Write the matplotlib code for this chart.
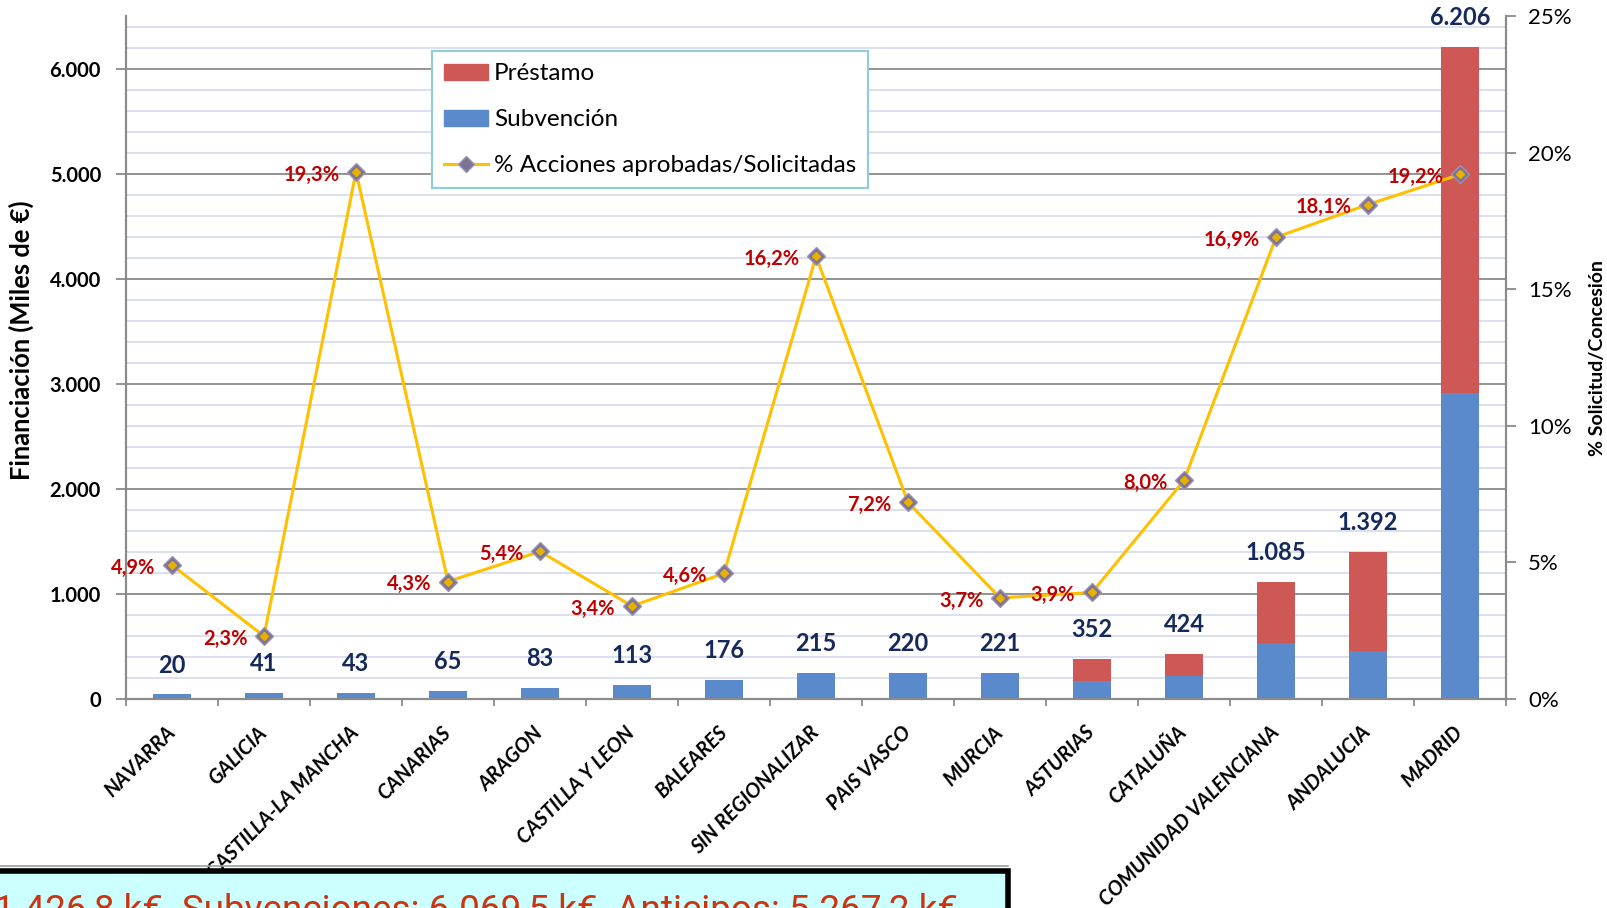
import matplotlib
matplotlib.use("Agg")
import matplotlib.pyplot as plt
import numpy as np
from matplotlib.patches import Rectangle, Patch
from matplotlib.lines import Line2D
from matplotlib.transforms import ScaledTranslation

# ---------------- data ----------------
categories = ['NAVARRA', 'GALICIA', 'CASTILLA-LA MANCHA', 'CANARIAS', 'ARAGON',
              'CASTILLA Y LEON', 'BALEARES', 'SIN REGIONALIZAR', 'PAIS VASCO',
              'MURCIA', 'ASTURIAS', 'CATALUÑA', 'COMUNIDAD VALENCIANA',
              'ANDALUCIA', 'MADRID']
subvencion = [45, 60, 60, 76, 105, 136, 184, 247, 247, 247, 168, 222, 533, 453, 2911]
prestamo = [0, 0, 0, 0, 0, 0, 0, 0, 0, 0, 213, 206, 583, 946, 3293]
total_labels = [20, 41, 43, 65, 83, 113, 176, 215, 220, 221, 352, 424, 1085, 1392, 6206]
pct_aprobadas = [4.9, 2.3, 19.3, 4.3, 5.4, 3.4, 4.6, 16.2, 7.2, 3.7, 3.9, 8.0, 16.9, 18.1, 19.2]
left_ticks = [0, 1000, 2000, 3000, 4000, 5000, 6000]
right_ticks = [0, 5, 10, 15, 20, 25]
footer_text = "1.426,8 k€. Subvenciones: 6.069,5 k€. Anticipos: 5.267,2 k€"

# ---------------- style ----------------
FONT = ['Lato', 'DejaVu Sans']
plt.rcParams['font.family'] = FONT
BLUE = '#5A8ACB'
RED = '#CD5856'
GOLD = '#FFC000'
NAVY = '#15295A'
PCTRED = '#C00000'
GRID_MAJ = '#8A8A8A'
GRID_MIN = '#D8DCEE'

W, H = 1608, 908
fig = plt.figure(figsize=(W / 100, H / 100), dpi=100)
ax = fig.add_axes([126 / W, 1 - 699 / H, 1380 / W, 683 / H])

x = np.arange(len(categories))
bw = 0.41
ax.bar(x, subvencion, width=bw, color=BLUE, zorder=3, linewidth=0)
ax.bar(x, prestamo, width=bw, bottom=subvencion, color=RED, zorder=3, linewidth=0)

ax.set_xlim(-0.5, len(categories) - 0.5)
ax.set_ylim(0, 6500)
ax.set_yticks(left_ticks)
ax.set_yticklabels([f"{v:,}".replace(',', '.') for v in left_ticks],
                   fontsize=14.5, fontweight='bold')
ax.set_yticks(np.arange(0, 6600, 200), minor=True)
ax.yaxis.grid(True, which='minor', color=GRID_MIN, linewidth=1.3, zorder=0)
ax.yaxis.grid(True, which='major', color=GRID_MAJ, linewidth=1.3, zorder=1)
ax.set_axisbelow(True)
ax.tick_params(axis='y', which='major', direction='out', length=7, width=1.3,
               color=GRID_MAJ, pad=11)
ax.tick_params(axis='y', which='minor', length=0)

# x ticks at category boundaries, labels at centres
ax.set_xticks(np.arange(-0.5, len(categories), 1.0))
ax.set_xticklabels([])
ax.tick_params(axis='x', which='major', direction='out', length=5, width=1.3,
               color=GRID_MAJ)
ax.set_xticks(x, minor=True)
ax.set_xticklabels(categories, minor=True, rotation=45, ha='right',
                   rotation_mode='anchor', fontsize=14.5, fontweight='bold',
                   fontstyle='italic', va='center')
ax.tick_params(axis='x', which='minor', length=0, pad=22)

for s in ['left', 'right', 'bottom']:
    ax.spines[s].set_color(GRID_MAJ)
    ax.spines[s].set_linewidth(1.5)
ax.spines['top'].set_visible(False)

ax.set_ylabel('Financiación (Miles de €)', fontsize=18.4, fontweight='bold')
ax.yaxis.set_label_coords(-92 / 1380, 0.526)

# value labels above bars
totals = [s + p for s, p in zip(subvencion, prestamo)]
for xi, t, lab in zip(x, totals, total_labels):
    ax.annotate(f"{lab:,}".replace(',', '.'), (xi, t), xytext=(0, 21),
                textcoords='offset points', ha='center', va='center',
                fontsize=17, fontweight='bold', color=NAVY, zorder=6)

# secondary axis
ax2 = ax.twinx()
ax2.set_ylim(0, 25)
ax2.set_yticks(right_ticks)
ax2.set_yticklabels([f"{v}%" for v in right_ticks], fontsize=16)
ax2.tick_params(axis='y', direction='out', length=7, width=1.3, color=GRID_MAJ, pad=9)
for s in ['left', 'right', 'bottom']:
    ax2.spines[s].set_color(GRID_MAJ)
    ax2.spines[s].set_linewidth(1.5)
ax2.spines['top'].set_visible(False)
ax2.set_ylabel('% Solicitud/Concesión', fontsize=14, fontweight='bold', rotation=90)
ax2.yaxis.set_label_coords(1 + 83 / 1380, 0.5)

ax2.plot(x, pct_aprobadas, color=GOLD, linewidth=2.2, zorder=5)
ax2.plot(x, pct_aprobadas, linestyle='none', marker='D', markersize=9.5,
         markerfacecolor='#7D7396', markeredgecolor='#9A92AE', markeredgewidth=1, zorder=6)
ax2.plot(x, pct_aprobadas, linestyle='none', marker='D', markersize=4.5,
         markerfacecolor='#E8B000', markeredgecolor='#E8B000', zorder=7)
for xi, p in zip(x, pct_aprobadas):
    ax2.annotate(f"{p:.1f}%".replace('.', ','), (xi, p), xytext=(-12, -2),
                 textcoords='offset points', ha='right', va='center',
                 fontsize=14.5, fontweight='bold', color=PCTRED, zorder=8)

# legend
handles = [Patch(facecolor=RED, edgecolor=RED),
           Patch(facecolor=BLUE, edgecolor=BLUE),
           Line2D([0], [0], color=GOLD, linewidth=2.2, marker='D', markersize=8,
                  markerfacecolor='#7D7396', markeredgecolor='#9A92AE')]
leg = ax2.legend(handles, ['Préstamo', 'Subvención', '% Acciones aprobadas/Solicitadas'],
                 loc='upper left', bbox_to_anchor=(432 / W, 1 - 51 / H),
                 bbox_transform=fig.transFigure, borderaxespad=0, fontsize=17.5,
                 frameon=True, fancybox=False, framealpha=1, edgecolor='#93CDDD',
                 handlelength=1.8, handleheight=0.63, handletextpad=0.25,
                 labelspacing=1.03, borderpad=0.5)
leg.get_frame().set_linewidth(1.6)
leg.set_zorder(10)

# footer box (cut off by figure bottom, as in the source)
fig.add_artist(Line2D([0, 1008 / W], [1 - 866 / H, 1 - 866 / H], color='#A0A0A0',
                      linewidth=1.2, transform=fig.transFigure))
fig.add_artist(Rectangle((-0.01, -0.2), (1008 + 16) / W, 0.2 + (1 - 871 / H),
                         transform=fig.transFigure, facecolor='#CCFFFF',
                         edgecolor='black', linewidth=4, clip_on=False))
fig.text(-6 / W, -13 / H, footer_text, fontsize=26.6, color='#CC3311',
         family=['Liberation Sans Narrow', 'Roboto', 'DejaVu Sans'],
         ha='left', va='baseline')

fig.savefig('out.png', dpi=100)
